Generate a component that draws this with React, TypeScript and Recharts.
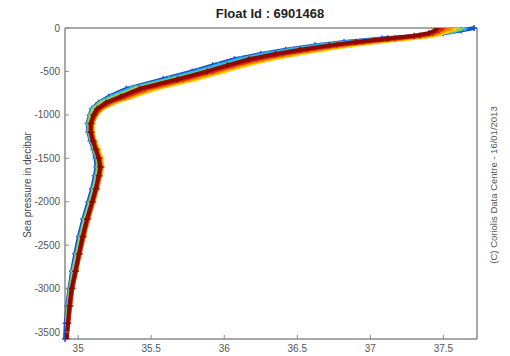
import * as React from 'react';
import { ScatterChart, Scatter, XAxis, YAxis, ReferenceLine } from 'recharts';

// pressure levels (dbar), plotted as negative values
const pres = [0, 30, 60, 90, 120, 160, 200, 250, 300, 360, 430, 500, 590, 700, 790, 860, 930, 1000, 1100, 1200,
  1300, 1400, 1500, 1600, 1700, 1850, 2000, 2200, 2400, 2600, 2800, 3000, 3200, 3400, 3580];

// salinity per profile, first cycles (blue) to last (dark red)
const salBlue = [37.71, 37.62, 37.50, 37.34, 37.08, 36.82, 36.62, 36.42, 36.25, 36.07, 35.92, 35.78, 35.58, 35.33, 35.21, 35.14, 35.095, 35.08, 35.065, 35.07,
  35.085, 35.105, 35.12, 35.125, 35.115, 35.095, 35.07, 35.035, 35.005, 34.98, 34.958, 34.94, 34.925, 34.915, 34.91];
const salCyan = [37.65, 37.58, 37.48, 37.36, 37.12, 36.86, 36.66, 36.46, 36.29, 36.11, 35.96, 35.82, 35.62, 35.36, 35.23, 35.15, 35.10, 35.085, 35.07, 35.075,
  35.09, 35.11, 35.13, 35.135, 35.125, 35.105, 35.08, 35.045, 35.015, 34.99, 34.965, 34.945, 34.93, 34.92, 34.912];
const salGreen = [37.62, 37.56, 37.48, 37.38, 37.18, 36.94, 36.74, 36.54, 36.37, 36.18, 36.02, 35.87, 35.66, 35.39, 35.26, 35.16, 35.11, 35.09, 35.075, 35.08,
  35.095, 35.115, 35.135, 35.14, 35.13, 35.11, 35.085, 35.05, 35.02, 34.995, 34.97, 34.95, 34.935, 34.925, 34.915];
const salYellow = [37.58, 37.53, 37.49, 37.42, 37.27, 37.05, 36.87, 36.67, 36.50, 36.31, 36.14, 36.00, 35.80, 35.53, 35.37, 35.25, 35.165, 35.125, 35.10, 35.10,
  35.115, 35.14, 35.16, 35.165, 35.15, 35.13, 35.10, 35.065, 35.035, 35.01, 34.985, 34.96, 34.945, 34.93, 34.92];
const salOrange = [37.55, 37.50, 37.46, 37.38, 37.22, 37.00, 36.82, 36.62, 36.45, 36.27, 36.10, 35.96, 35.76, 35.50, 35.35, 35.23, 35.155, 35.12, 35.095, 35.095,
  35.11, 35.13, 35.15, 35.16, 35.15, 35.13, 35.105, 35.07, 35.04, 35.01, 34.985, 34.96, 34.945, 34.93, 34.92];
const salRed = [37.50, 37.47, 37.43, 37.34, 37.17, 36.95, 36.77, 36.57, 36.40, 36.22, 36.06, 35.92, 35.72, 35.46, 35.32, 35.21, 35.145, 35.115, 35.09, 35.09,
  35.105, 35.125, 35.145, 35.155, 35.145, 35.125, 35.10, 35.065, 35.035, 35.01, 34.985, 34.96, 34.945, 34.932, 34.922];
const salDarkRed = [37.46, 37.44, 37.40, 37.30, 37.12, 36.90, 36.72, 36.52, 36.35, 36.17, 36.02, 35.88, 35.68, 35.42, 35.29, 35.19, 35.13, 35.105, 35.085, 35.085,
  35.10, 35.12, 35.14, 35.15, 35.14, 35.12, 35.095, 35.06, 35.03, 35.005, 34.98, 34.955, 34.94, 34.93, 34.92];

const profiles = [
  { name: 'c1', sal: salBlue, color: '#1b52c9' },
  { name: 'c2', sal: salCyan, color: '#2fb6e6' },
  { name: 'c3', sal: salGreen, color: '#9ad24a' },
  { name: 'c4', sal: salYellow, color: '#ffd400' },
  { name: 'c5', sal: salOrange, color: '#ff8a00' },
  { name: 'c6', sal: salRed, color: '#dd2a0e' },
  { name: 'c7', sal: salDarkRed, color: '#8c0a05' },
];

const xTicks = [35, 35.5, 36, 36.5, 37, 37.5];
const yTicks = [-3500, -3000, -2500, -2000, -1500, -1000, -500, 0];
const xDomain = [34.91, 37.73];
const yDomain = [-3580, 0];

const axisColor = '#8a8a8a';
const font = 'Liberation Sans, Arial, sans-serif';

const BottomTick = (props: any) => {
  const { x, y, payload } = props;
  return <g>
    <line x1={x} x2={x} y1={y} y2={y - 4} stroke={axisColor} />
    <text x={x} y={y + 13} textAnchor="middle" fontSize={10} fill="#555" fontFamily={font}>{payload.value}</text>
  </g>;
};
const LeftTick = (props: any) => {
  const { x, y, payload } = props;
  return <g>
    <line x1={x} x2={x + 4} y1={y} y2={y} stroke={axisColor} />
    <text x={x - 5} y={y + 3.5} textAnchor="end" fontSize={10} fill="#555" fontFamily={font}>{payload.value}</text>
  </g>;
};

const Cross = (color: string) => (props: any) => {
  const { cx, cy } = props;
  return <path d={`M${cx - 3},${cy}H${cx + 3}M${cx},${cy - 3}V${cy + 3}`} stroke={color} strokeWidth={1.5} />;
};

const App = () => {
  return <div style={{ position: 'absolute', left: 0, top: 0, width: 510, height: 356, background: '#fff' }}>
    <div style={{ position: 'absolute', left: 0, top: 6, width: 540, textAlign: 'center', fontFamily: font, fontWeight: 'bold', fontSize: 13, color: '#222' }}>
      Float Id : 6901468
    </div>
    <div style={{ position: 'absolute', left: 27, top: 185, transform: 'translate(-50%, -50%) rotate(-90deg)', whiteSpace: 'nowrap', fontFamily: font, fontSize: 10, color: '#444' }}>
      Sea pressure in decibar
    </div>
    <div style={{ position: 'absolute', left: 493, top: 185, transform: 'translate(-50%, -50%) rotate(-90deg)', whiteSpace: 'nowrap', fontFamily: font, fontSize: 9.5, color: '#555' }}>
      (C) Coriolis Data Centre - 16/01/2013
    </div>
    <ScatterChart width={510} height={356} margin={{ top: 28, right: 33, left: 0, bottom: 0 }}>
      <XAxis type="number" dataKey="s" domain={xDomain} ticks={xTicks} allowDataOverflow
        height={17} tickSize={0} tickMargin={0} tickLine={false} tick={<BottomTick />}
        axisLine={{ stroke: axisColor, strokeWidth: 1.5 }} />
      <XAxis xAxisId="top" orientation="top" type="number" dataKey="s" domain={xDomain} ticks={xTicks}
        height={0} mirror tickSize={4} tick={false} stroke={axisColor} />
      <YAxis type="number" dataKey="p" domain={yDomain} ticks={yTicks} allowDataOverflow
        width={65} tickSize={0} tickMargin={0} tickLine={false} tick={<LeftTick />}
        axisLine={{ stroke: axisColor, strokeWidth: 1.5 }} />
      <YAxis yAxisId="right" orientation="right" type="number" dataKey="p" domain={yDomain} ticks={yTicks}
        width={0} mirror tickSize={4} tick={false} stroke={axisColor} />
      <ReferenceLine y={0} stroke={axisColor} strokeWidth={1.5} />
      <ReferenceLine x={xDomain[1]} stroke={axisColor} strokeWidth={1.5} />
      {profiles.map((pr, k) => (
        <Scatter key={pr.name} name={pr.name}
          xAxisId={k === 0 ? 'top' : 0} yAxisId={k === 0 ? 'right' : 0}
          data={pres.map((p, i) => ({ s: pr.sal[i], p: -p }))}
          line={{ stroke: pr.color, strokeWidth: 4, strokeLinejoin: 'round' }}
          lineType="joint"
          shape={Cross(pr.color)}
          isAnimationActive={false} />
      ))}
    </ScatterChart>
  </div>;
};

export default App;
